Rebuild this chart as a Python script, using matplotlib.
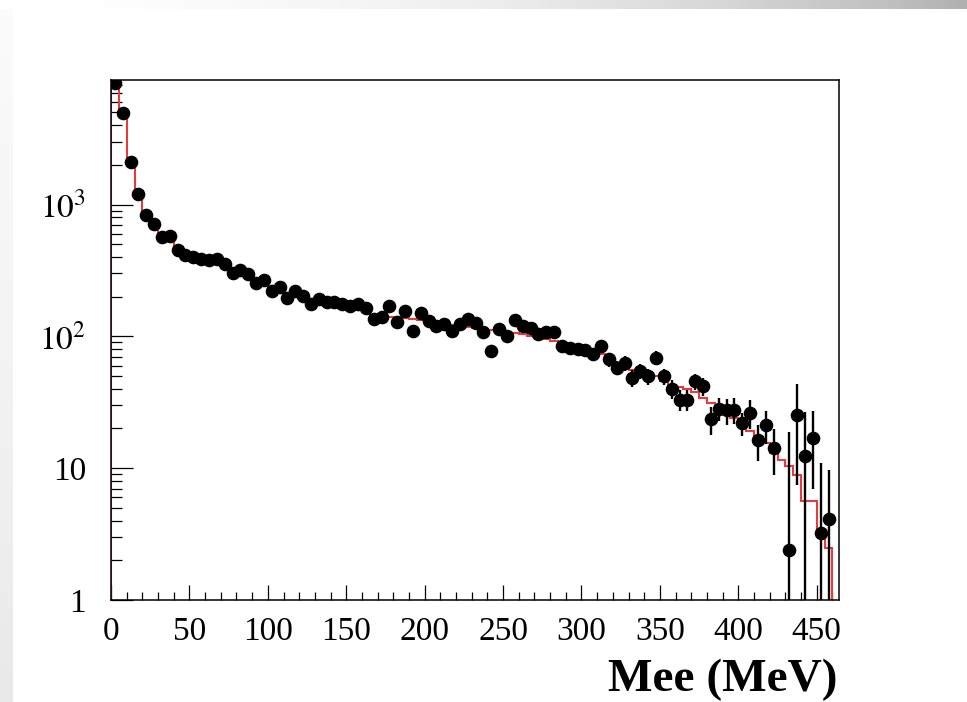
import numpy as np
import matplotlib
matplotlib.use("Agg")
import matplotlib.pyplot as plt
from matplotlib.ticker import FixedLocator, MultipleLocator, LogLocator, NullFormatter

# 5 MeV bins from 0 to 460 MeV
bin_edges = np.arange(0, 465, 5)
bin_centers = bin_edges[:-1] + 2.5

data_counts = [
    8400, 4940, 2105, 1200, 832, 711, 566, 579, 451, 413,
    399, 385, 380, 385, 353, 301, 319, 296, 256, 268,
    221, 235, 197, 221, 203, 175, 191, 181, 181, 175,
    170, 175, 165, 136, 139, 170, 128, 156, 110, 151,
    131, 120, 123, 110, 123, 135, 127, 107, 77, 113,
    100, 133, 120, 116, 104, 107, 107, 84, 82, 80,
    79, 73, 84, 67, 58, 63, 48.5, 54.5, 50, 69,
    50, 40, 33, 33, 45.7, 42, 23.4, 28.3, 27.4, 27.8,
    21.9, 26.4, 16.3, 21.2, 14.3, 0, 2.4, 25.5, 12.3, 17,
    3.2, 4.1,
]

data_errors = [
    92, 70, 46, 35, 29, 27, 24, 24, 21, 20,
    20, 19, 19, 19, 18, 17, 17, 17, 16, 16,
    15, 15, 14, 15, 14, 13, 14, 13, 13, 13,
    13, 13, 13, 12, 12, 13, 11, 12, 11, 12,
    11, 11, 11, 10, 11, 11, 11, 10, 9, 10,
    10, 11, 10, 10, 10, 10, 10, 9, 9, 9,
    9, 8, 9, 8, 7.5, 8, 7, 7, 7, 8,
    7, 6.5, 6, 6, 6.5, 6.5, 5.5, 5.5, 6, 6,
    4.5, 6.5, 4.9, 6, 5.5, 0, 16.5, 18, 14.5, 10,
    7.8, 5.6,
]

mc_counts = [
    8600, 4800, 2100, 1180, 840, 700, 590, 545, 460, 425,
    405, 395, 385, 375, 352, 320, 305, 290, 270, 255,
    235, 222, 210, 200, 192, 186, 180, 175, 170, 166,
    162, 158, 154, 146, 143, 141, 139, 137, 135, 133,
    128, 126, 124, 122, 119, 117, 116, 113, 112, 108,
    104, 106, 104, 100, 98, 96, 92, 90, 86, 82,
    82, 78, 74, 68, 63, 60, 56, 54, 52, 50,
    46, 43, 41.6, 39.6, 37.5, 34, 31, 29, 27, 24,
    21.5, 19, 17, 15.6, 13.1, 11.6, 10.3, 8.9, 5.6, 5.6,
    3.3, 2.5,
]

y_ticks = [1, 10, 100, 1000]
y_tick_labels = ["1", "10", r"$10^{2}$", r"$10^{3}$"]
x_ticks = list(range(0, 500, 50))

plt.rcParams["font.family"] = ["Liberation Serif", "DejaVu Serif"]
plt.rcParams["mathtext.fontset"] = "stix"

fig = plt.figure(figsize=(9.67, 7.02), dpi=100)
fig.patch.set_facecolor("white")

# slide background strips
top_band = fig.add_axes([0, 1 - 9 / 702, 1, 9 / 702])
grad = np.linspace(0, 1, 256) ** 1.6
top_band.imshow(grad[None, :], aspect="auto", cmap="Greys", vmin=0, vmax=2.4)
top_band.axis("off")
left_band = fig.add_axes([0, 0, 13 / 967, 1 - 9 / 702])
vgrad = np.linspace(0.2, 1, 256)[:, None]
left_band.imshow(vgrad, aspect="auto", cmap="Greys", vmin=0, vmax=6.0, origin="upper")
left_band.axis("off")

ax = fig.add_axes([111 / 967, 1 - 600 / 702, (838.7 - 111) / 967, 520 / 702])

counts = np.array(data_counts, dtype=float)
errs = np.array(data_errors, dtype=float)
shown = counts > 0
lo = np.minimum(errs[shown], counts[shown] * 0.9999)

ax.stairs(mc_counts, bin_edges, color="#e23c3c", lw=1.5, baseline=1e-3, zorder=2)
ax.errorbar(bin_centers[shown], counts[shown], yerr=[lo, errs[shown]],
            fmt="o", color="black", ms=8.8, elinewidth=1.7, capsize=0, zorder=3)

ax.set_yscale("log")
ax.set_xlim(0, 464)
ax.set_ylim(1, 8800)

ax.yaxis.set_major_locator(FixedLocator(y_ticks))
ax.set_yticklabels(y_tick_labels)
ax.yaxis.set_minor_locator(LogLocator(base=10, subs=np.arange(2, 10)))
ax.yaxis.set_minor_formatter(NullFormatter())
ax.set_xticks(x_ticks)
ax.xaxis.set_minor_locator(MultipleLocator(10))

ax.tick_params(axis="both", which="both", direction="in", top=False, right=False,
               width=0.9, labelsize=24, colors="black")
ax.tick_params(axis="y", which="major", length=16, pad=18)
ax.tick_params(axis="y", which="minor", length=8)
ax.tick_params(axis="x", which="major", length=11, pad=12)
ax.tick_params(axis="x", which="minor", length=5.5)
for s in ax.spines.values():
    s.set_linewidth(1.1)
    s.set_color("black")

fig.text(838 / 967, 1 - 680 / 702, "Mee (MeV)", ha="right", va="center",
         fontsize=34, fontweight="bold")

fig.savefig("out.png", dpi=100)
